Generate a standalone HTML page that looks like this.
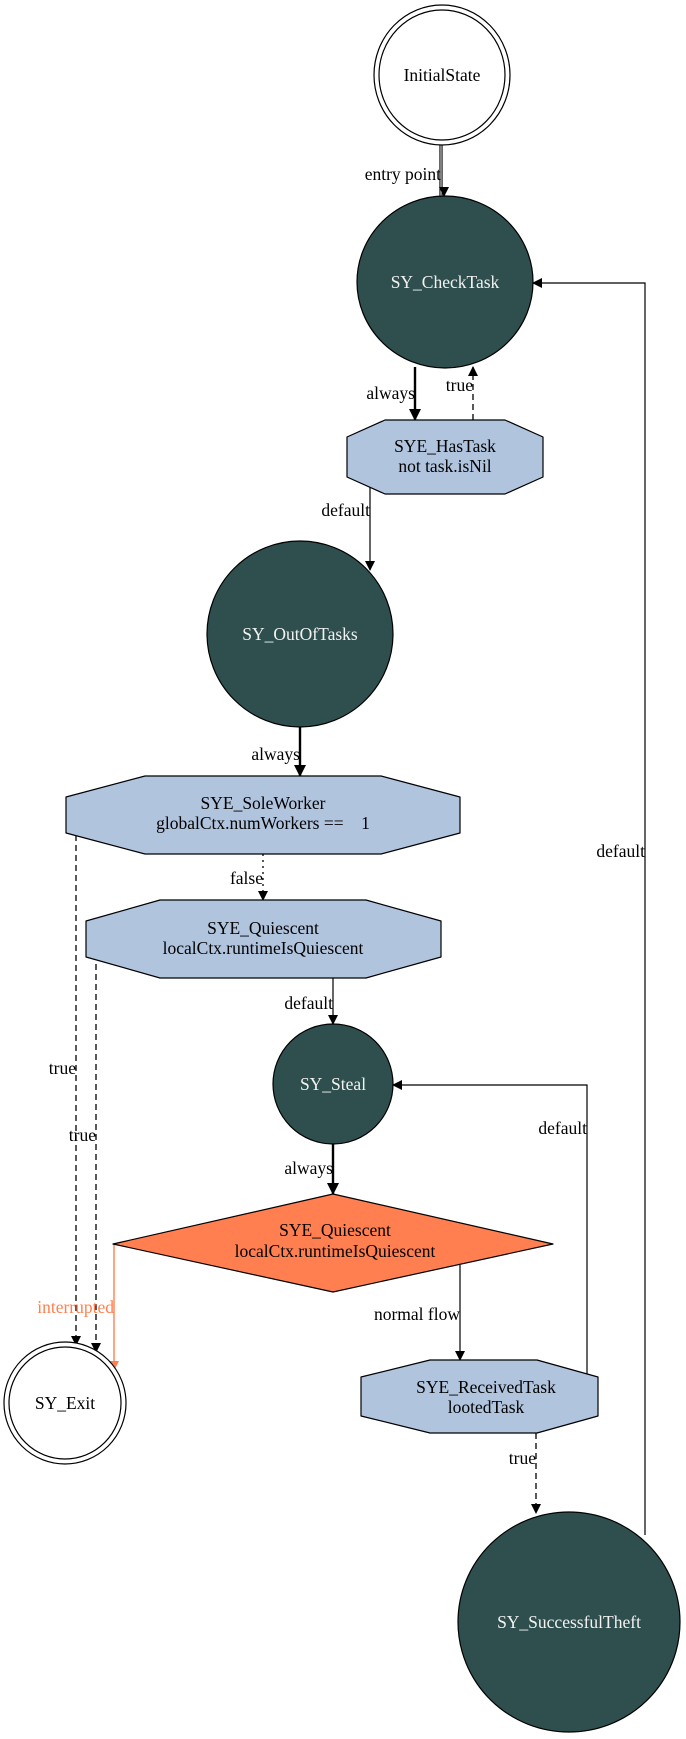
<!DOCTYPE html>
<html><head><meta charset="utf-8"><style>
html,body{margin:0;padding:0;background:#fff}
svg{display:block}
text{font-family:"Liberation Serif",serif;font-size:17.5px}
</style></head><body>
<svg width="686" height="1739" viewBox="0 0 686 1739" xmlns="http://www.w3.org/2000/svg">
<defs>
<marker id="a" markerWidth="10" markerHeight="10" refX="9" refY="5" orient="auto" markerUnits="userSpaceOnUse"><path d="M0,0 L10,5 L0,10 z" fill="#000"/></marker>
<marker id="ab" markerWidth="12" markerHeight="12" refX="11" refY="6" orient="auto" markerUnits="userSpaceOnUse"><path d="M0,0 L12,6 L0,12 z" fill="#000"/></marker>
<marker id="ao" markerWidth="10" markerHeight="10" refX="9" refY="5" orient="auto" markerUnits="userSpaceOnUse"><path d="M0,0 L10,5 L0,10 z" fill="#ff7f50"/></marker>
</defs>

<path d="M441,143 L441,196" stroke="#000" stroke-width="3.2" fill="none"/>
<path d="M441,143 L441,196" stroke="#fff" stroke-width="1" fill="none"/>
<path d="M444,190 L444,196" stroke="#000" stroke-width="1" marker-end="url(#a)"/>
<text x="441" y="180" text-anchor="end">entry point</text>

<path d="M415,367 L415,420" stroke="#000" stroke-width="2.4" marker-end="url(#ab)"/>
<text x="415" y="399" text-anchor="end">always</text>
<path d="M473,420 L473,367" stroke="#000" stroke-width="1.3" stroke-dasharray="6,4" marker-end="url(#a)"/>
<text x="473" y="391" text-anchor="end">true</text>

<path d="M370,478 L370,570" stroke="#000" stroke-width="1.2" marker-end="url(#a)"/>
<text x="370" y="516" text-anchor="end">default</text>

<path d="M300,727 L300,776" stroke="#000" stroke-width="2.4" marker-end="url(#ab)"/>
<text x="300" y="760" text-anchor="end">always</text>

<path d="M263,854 L263,900" stroke="#000" stroke-width="1.3" stroke-dasharray="2,4" marker-end="url(#a)"/>
<text x="263" y="884" text-anchor="end">false</text>

<path d="M333,978 L333,1024" stroke="#000" stroke-width="1.2" marker-end="url(#a)"/>
<text x="333" y="1009" text-anchor="end">default</text>

<path d="M333,1144 L333,1194" stroke="#000" stroke-width="2.4" marker-end="url(#ab)"/>
<text x="333" y="1174" text-anchor="end">always</text>

<path d="M460,1265 L460,1360" stroke="#000" stroke-width="1.2" marker-end="url(#a)"/>
<text x="460" y="1320" text-anchor="end">normal flow</text>

<path d="M536,1433 L536,1513" stroke="#000" stroke-width="1.3" stroke-dasharray="6,4" marker-end="url(#a)"/>
<text x="536" y="1464" text-anchor="end">true</text>

<path d="M645,1535 L645,283 L533,283" stroke="#000" stroke-width="1.2" fill="none" marker-end="url(#a)"/>
<text x="645" y="857" text-anchor="end">default</text>

<path d="M587,1380 L587,1085 L393,1085" stroke="#000" stroke-width="1.2" fill="none" marker-end="url(#a)"/>
<text x="587" y="1134" text-anchor="end">default</text>

<path d="M76,835 L76,1345" stroke="#000" stroke-width="1.3" stroke-dasharray="6,4" fill="none" marker-end="url(#a)"/>
<text x="76" y="1074" text-anchor="end">true</text>
<path d="M96,954 L96,1352" stroke="#000" stroke-width="1.3" stroke-dasharray="6,4" fill="none" marker-end="url(#a)"/>
<text x="96" y="1141" text-anchor="end">true</text>
<path d="M114,1244 L114,1370" stroke="#ff7f50" stroke-width="1.4" fill="none" marker-end="url(#ao)"/>
<text x="114" y="1313" text-anchor="end" fill="#ff7f50">interrupted</text>

<ellipse cx="442" cy="75" rx="68" ry="70" fill="#fff" stroke="#000" stroke-width="1.2"/>
<ellipse cx="442" cy="75" rx="63" ry="65" fill="none" stroke="#000" stroke-width="1.2"/>
<text x="442" y="81" text-anchor="middle">InitialState</text>

<ellipse cx="445" cy="282" rx="88" ry="86" fill="#2f4f4f" stroke="#000" stroke-width="1.2"/>
<text x="445" y="288" text-anchor="middle" fill="#f2f2f2">SY_CheckTask</text>

<polygon points="385,420 505,420 543,437 543,477 505,494 385,494 347,477 347,437" fill="#b0c4de" stroke="#000" stroke-width="1.2" stroke-linejoin="round"/>
<text x="445" y="452" text-anchor="middle">SYE_HasTask</text>
<text x="445" y="472" text-anchor="middle">not task.isNil</text>

<ellipse cx="300" cy="634" rx="93" ry="93" fill="#2f4f4f" stroke="#000" stroke-width="1.2"/>
<text x="300" y="640" text-anchor="middle" fill="#f2f2f2">SY_OutOfTasks</text>

<polygon points="145,776 381,776 460,797 460,833 381,854 145,854 66,833 66,797" fill="#b0c4de" stroke="#000" stroke-width="1.2" stroke-linejoin="round"/>
<text x="263" y="809" text-anchor="middle">SYE_SoleWorker</text>
<text x="263" y="829" text-anchor="middle" xml:space="preserve">globalCtx.numWorkers ==    1</text>

<polygon points="160,900 366,900 441,921 441,957 366,978 160,978 86,957 86,921" fill="#b0c4de" stroke="#000" stroke-width="1.2" stroke-linejoin="round"/>
<text x="263" y="934" text-anchor="middle">SYE_Quiescent</text>
<text x="263" y="954" text-anchor="middle">localCtx.runtimeIsQuiescent</text>

<ellipse cx="333" cy="1084" rx="60" ry="60" fill="#2f4f4f" stroke="#000" stroke-width="1.2"/>
<text x="333" y="1090" text-anchor="middle" fill="#f2f2f2">SY_Steal</text>

<polygon points="333,1194 553,1244 333,1292 113,1244" fill="#ff7f50" stroke="#000" stroke-width="1.2" stroke-linejoin="round"/>
<text x="335" y="1236" text-anchor="middle">SYE_Quiescent</text>
<text x="335" y="1257" text-anchor="middle">localCtx.runtimeIsQuiescent</text>

<polygon points="430,1360 537,1360 598,1377 598,1416 537,1433 430,1433 361,1416 361,1377" fill="#b0c4de" stroke="#000" stroke-width="1.2" stroke-linejoin="round"/>
<text x="486" y="1393" text-anchor="middle">SYE_ReceivedTask</text>
<text x="486" y="1413" text-anchor="middle">lootedTask</text>

<ellipse cx="569" cy="1622" rx="111" ry="110" fill="#2f4f4f" stroke="#000" stroke-width="1.2"/>
<text x="569" y="1628" text-anchor="middle" fill="#f2f2f2">SY_SuccessfulTheft</text>

<ellipse cx="65" cy="1403" rx="61" ry="61" fill="#fff" stroke="#000" stroke-width="1.2"/>
<ellipse cx="65" cy="1403" rx="56" ry="56" fill="none" stroke="#000" stroke-width="1.2"/>
<text x="65" y="1409" text-anchor="middle">SY_Exit</text>
</svg>
</body></html>
